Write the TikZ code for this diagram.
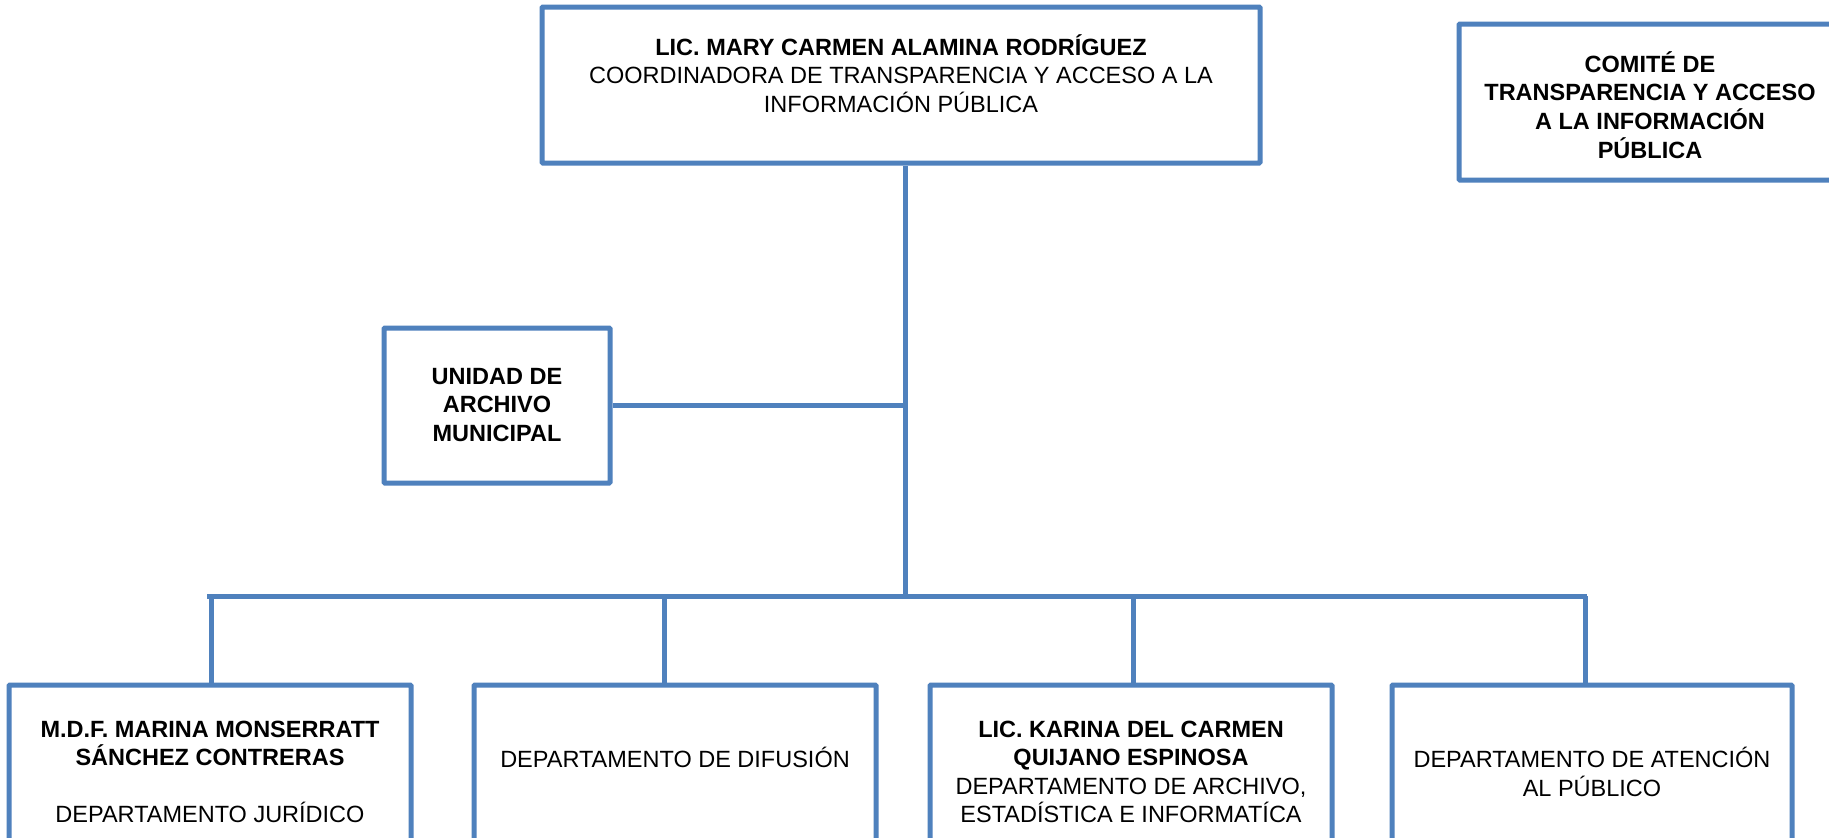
\documentclass[tikz,border=0pt]{standalone}
\usepackage{fontspec}
\setmainfont{Liberation Sans}
\definecolor{orgblue}{RGB}{79,129,189}
\begin{document}
\begin{tikzpicture}[x=1pt,y=-1pt,
  box/.style={draw=orgblue,line width=5pt,rounded corners=1pt,fill=white,inner sep=0pt},
  link/.style={draw=orgblue,line width=5pt},
  txt/.style={align=center,font=\fontsize{23.5}{28.5}\selectfont,inner sep=0pt,text=black}]
\useasboundingbox (0,0) rectangle (1829,838);
\clip (0,0) rectangle (1829,838);
\fill[white] (0,0) rectangle (1829,838);

% connector coordinates
\coordinate (trunkbot) at (905,596);
\coordinate (busL) at (207,596);
\coordinate (busR) at (1587,596);
\coordinate (d1) at (211,596);
\coordinate (d2) at (664,596);
\coordinate (d3) at (1133,596);
\coordinate (d4) at (1585,596);

% boxes
\node[box, minimum width=718pt, minimum height=156pt] (top) at (901,85) {};
\node[box, minimum width=382pt, minimum height=156pt] (comite) at (1650,102) {};
\node[box, minimum width=226pt, minimum height=155pt] (unidad) at (497,405.5) {};
\node[box, minimum width=402pt, minimum height=220pt] (b1) at (210,795) {};
\node[box, minimum width=402pt, minimum height=220pt] (b2) at (675,795) {};
\node[box, minimum width=402pt, minimum height=220pt] (b3) at (1131,795) {};
\node[box, minimum width=400pt, minimum height=220pt] (b4) at (1592,795) {};

% connectors
\draw[link] (top.south -| trunkbot) -- (trunkbot);
\draw[link] (unidad.east) -- (unidad.east -| trunkbot);
\draw[link] (busL) -- (busR);
\draw[link] (d1) -- (d1 |- b1.north);
\draw[link] (d2) -- (d2 |- b2.north);
\draw[link] (d3) -- (d3 |- b3.north);
\draw[link] (d4) -- (d4 |- b4.north);

% texts
\node[txt] (toptxt) at (901,73.5) {\textbf{LIC. MARY CARMEN ALAMINA RODRÍGUEZ}\\COORDINADORA DE TRANSPARENCIA Y ACCESO A LA\\INFORMACIÓN PÚBLICA};
\node[txt,font=\fontsize{23.5}{28.7}\selectfont\bfseries] (comitetxt) at (1650,105) {COMITÉ DE\\TRANSPARENCIA Y ACCESO\\A LA INFORMACIÓN\\PÚBLICA};
\node[txt,font=\fontsize{23.5}{28.5}\selectfont\bfseries] (unidadtxt) at (497,405) {UNIDAD DE\\ARCHIVO\\MUNICIPAL};
\node[txt] (b1txt) at (210,772) {\textbf{M.D.F. MARINA MONSERRATT}\\\textbf{SÁNCHEZ CONTRERAS}\\[28.5pt]DEPARTAMENTO JURÍDICO};
\node[txt] (b2txt) at (675,757) {DEPARTAMENTO DE DIFUSIÓN};
\node[txt] (b3txt) at (1131,772) {\textbf{LIC. KARINA DEL CARMEN}\\\textbf{QUIJANO ESPINOSA}\\DEPARTAMENTO DE ARCHIVO,\\ESTADÍSTICA E INFORMATÍCA};
\node[txt] (b4txt) at (1592,772) {DEPARTAMENTO DE ATENCIÓN\\AL PÚBLICO};
\end{tikzpicture}
\end{document}
